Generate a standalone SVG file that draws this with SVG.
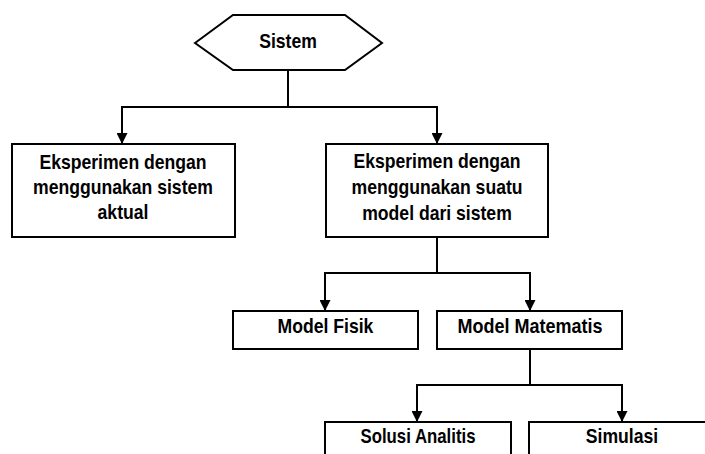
<svg xmlns="http://www.w3.org/2000/svg" width="705" height="454" viewBox="0 0 705 454">
<style>
.box{fill:#fff;stroke:#000;stroke-width:2}
.t{font-family:"Liberation Sans",Arial,sans-serif;font-weight:bold;font-size:20px;text-anchor:middle;fill:#000}
.c{fill:none;stroke:#000;stroke-width:2}
</style>
<defs>
<marker id="ah" viewBox="0 0 10 10" refX="10" refY="5" markerWidth="11" markerHeight="11" markerUnits="userSpaceOnUse" orient="auto">
<path d="M0,0 L10,5 L0,10 Z" fill="#000"/>
</marker>
</defs>
<rect width="705" height="454" fill="#fff"/>
<g id="connectors">
<path class="c" d="M288,70 V107"/>
<path class="c" d="M122,107 H437"/>
<path class="c" d="M122,106 V144" marker-end="url(#ah)"/>
<path class="c" d="M437,106 V144" marker-end="url(#ah)"/>
<path class="c" d="M437,237 V273"/>
<path class="c" d="M325,273 H530"/>
<path class="c" d="M325,272 V311" marker-end="url(#ah)"/>
<path class="c" d="M530,272 V311" marker-end="url(#ah)"/>
<path class="c" d="M530,349 V385"/>
<path class="c" d="M417,385 H622"/>
<path class="c" d="M417,384 V422" marker-end="url(#ah)"/>
<path class="c" d="M622,384 V422" marker-end="url(#ah)"/>
</g>
<g id="sistem">
<polygon class="box" points="195,43 233,15 345,15 382,43 345,70 233,70"/>
<text class="t" transform="translate(288 48) scale(0.88 1)">Sistem</text>
</g>
<g id="aktual">
<rect class="box" x="12" y="144" width="223" height="93"/>
<text class="t" transform="translate(123 168.5) scale(0.88 1)">Eksperimen dengan</text>
<text class="t" transform="translate(123 193.5) scale(0.88 1)">menggunakan sistem</text>
<text class="t" transform="translate(123 218.5) scale(0.88 1)">aktual</text>
</g>
<g id="model">
<rect class="box" x="326" y="144" width="222" height="93"/>
<text class="t" transform="translate(437 168) scale(0.88 1)">Eksperimen dengan</text>
<text class="t" transform="translate(437 194) scale(0.88 1)">menggunakan suatu</text>
<text class="t" transform="translate(437 220) scale(0.88 1)">model dari sistem</text>
</g>
<g id="fisik">
<rect class="box" x="233" y="311" width="185" height="38"/>
<text class="t" transform="translate(325.5 333) scale(0.88 1)">Model Fisik</text>
</g>
<g id="matematis">
<rect class="box" x="437" y="311" width="185" height="38"/>
<text class="t" transform="translate(530 333) scale(0.9 1)">Model Matematis</text>
</g>
<g id="analitis">
<rect class="box" x="325" y="422" width="186" height="40"/>
<text class="t" transform="translate(418 443) scale(0.84 1)">Solusi Analitis</text>
</g>
<g id="simulasi">
<rect class="box" x="529" y="422" width="186" height="40"/>
<text class="t" transform="translate(622 443) scale(0.88 1)">Simulasi</text>
</g>
</svg>
